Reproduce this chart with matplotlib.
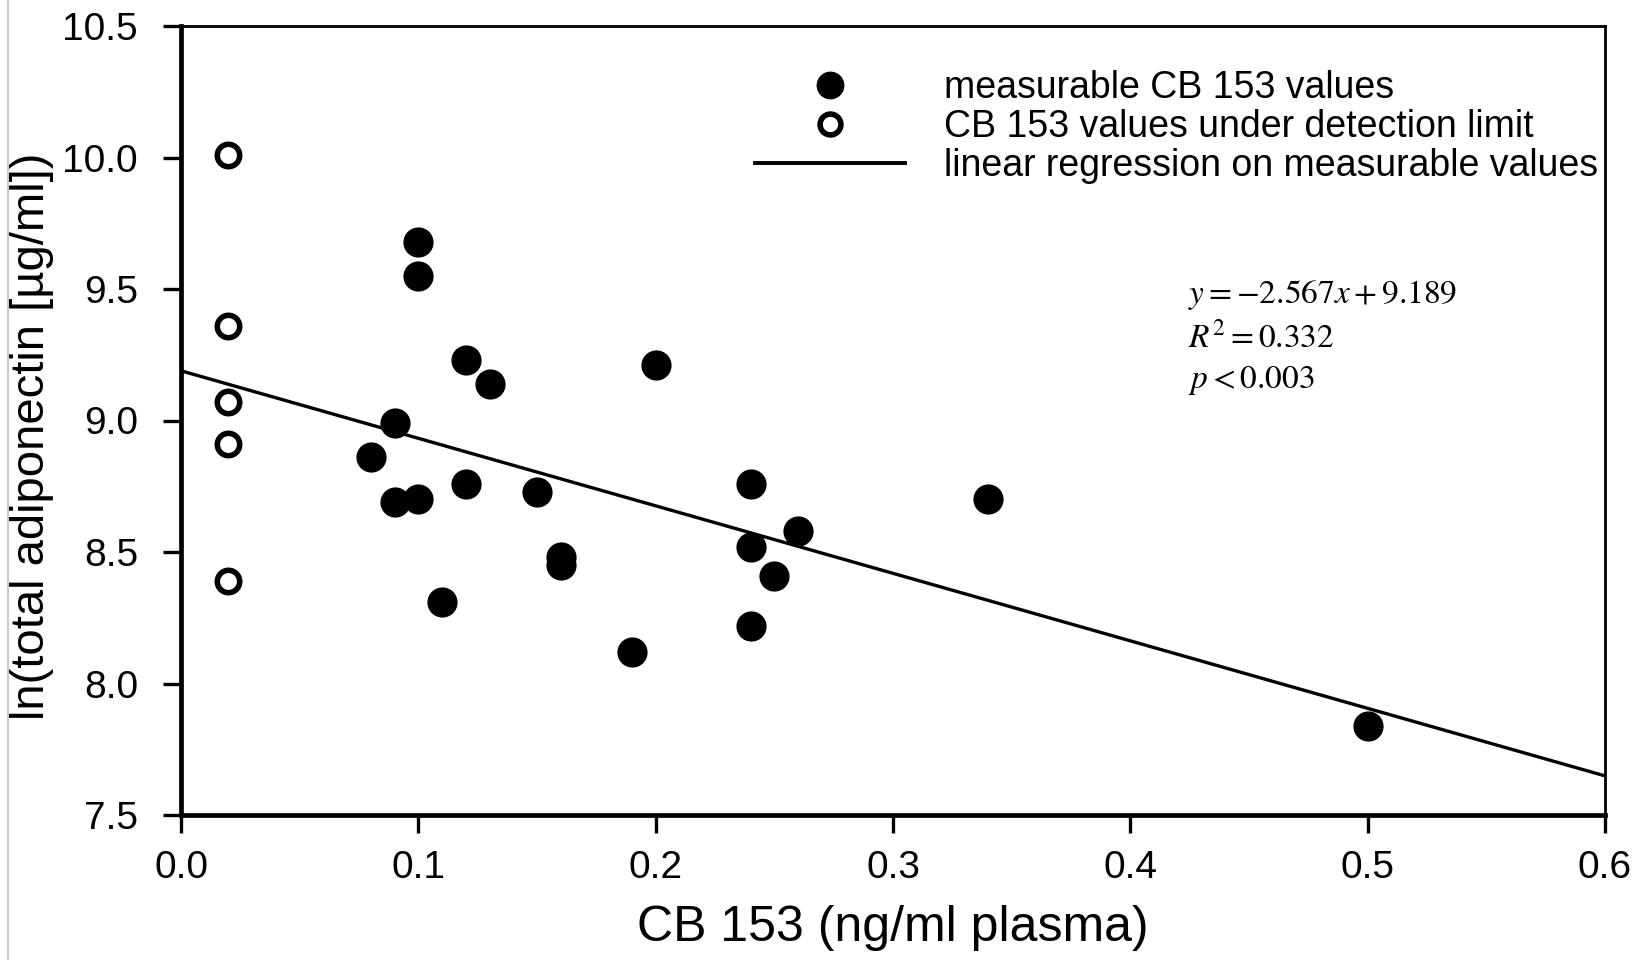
import matplotlib
matplotlib.use("Agg")
import matplotlib.pyplot as plt
import numpy as np
from matplotlib.lines import Line2D

# Data
meas_x = [0.10, 0.10, 0.12, 0.13, 0.20, 0.09, 0.08, 0.09, 0.10, 0.12, 0.15,
          0.16, 0.16, 0.11, 0.19, 0.24, 0.24, 0.24, 0.25, 0.26, 0.34, 0.50]
meas_y = [9.68, 9.55, 9.23, 9.14, 9.21, 8.99, 8.86, 8.69, 8.70, 8.76, 8.73,
          8.48, 8.45, 8.31, 8.12, 8.76, 8.52, 8.22, 8.41, 8.58, 8.70, 7.84]
lod_x = [0.02, 0.02, 0.02, 0.02, 0.02]
lod_y = [10.01, 9.36, 9.07, 8.91, 8.39]
slope = -2.567
intercept = 9.189
r2 = 0.332
pval = 0.003
xticks = [0.0, 0.1, 0.2, 0.3, 0.4, 0.5, 0.6]
yticks = [7.5, 8.0, 8.5, 9.0, 9.5, 10.0, 10.5]

plt.rcParams['font.family'] = ['Liberation Sans', 'DejaVu Sans']
plt.rcParams['mathtext.fontset'] = 'stix'

fig = plt.figure(figsize=(16.43, 9.6), dpi=100)
ax = fig.add_axes([181/1643, 1 - 815/960, (1605-181)/1643, (815-26)/960])

xl = np.array([0.0, 0.6])
ax.plot(xl, slope * xl + intercept, color='black', lw=2.4, zorder=2)
ax.scatter(meas_x, meas_y, s=430, color='black', zorder=3)
ax.scatter(lod_x, lod_y, s=260, facecolor='white', edgecolor='black', linewidths=4, zorder=3)

ax.set_xlim(0, 0.6)
ax.set_ylim(7.5, 10.5)
ax.set_xticks(xticks)
ax.set_xticklabels([f"{v:.1f}" for v in xticks])
ax.set_yticks(yticks)
ax.set_yticklabels([f"{v:.1f}" for v in yticks])
ax.tick_params(axis='both', direction='out', length=13, width=2.4, labelsize=28, colors='black')
ax.tick_params(axis='x', pad=12)
ax.tick_params(axis='y', pad=18)
for side in ['left', 'bottom']:
    ax.spines[side].set_linewidth(3.4)
for side in ['right', 'top']:
    ax.spines[side].set_linewidth(2.0)

ax.set_xlabel("CB 153 (ng/ml plasma)", fontsize=36, labelpad=14)
ax.set_ylabel("ln(total adiponectin [µg/ml])", fontsize=34)
ax.yaxis.set_label_coords(-0.089, 0.48)

handles = [
    Line2D([], [], marker='o', ls='none', color='black', markersize=19),
    Line2D([], [], marker='o', ls='none', markerfacecolor='white', markeredgecolor='black',
           markeredgewidth=4, markersize=15),
    Line2D([], [], color='black', lw=2.8),
]
labels = ["measurable CB 153 values", "CB 153 values under detection limit",
          "linear regression on measurable values"]
leg = ax.legend(handles, labels, loc='upper right', bbox_to_anchor=(1.011, 0.973), frameon=False,
                fontsize=27, handlelength=4.0, handletextpad=1.05, labelspacing=0.08,
                borderaxespad=0.2)

ax.text(0.7075, 0.659, rf"$y = {slope}x + {intercept}$", transform=ax.transAxes,
        fontsize=24, va='center', ha='left')
ax.text(0.7075, 0.604, rf"$R^2 = {r2}$", transform=ax.transAxes,
        fontsize=24, va='center', ha='left')
ax.text(0.7075, 0.551, rf"$p < {pval}$", transform=ax.transAxes,
        fontsize=24, va='center', ha='left')

fig.add_artist(Line2D([8/1643, 8/1643], [0, 1], color='#c0c0c0', lw=1.2))

fig.savefig("out.png", dpi=100)
